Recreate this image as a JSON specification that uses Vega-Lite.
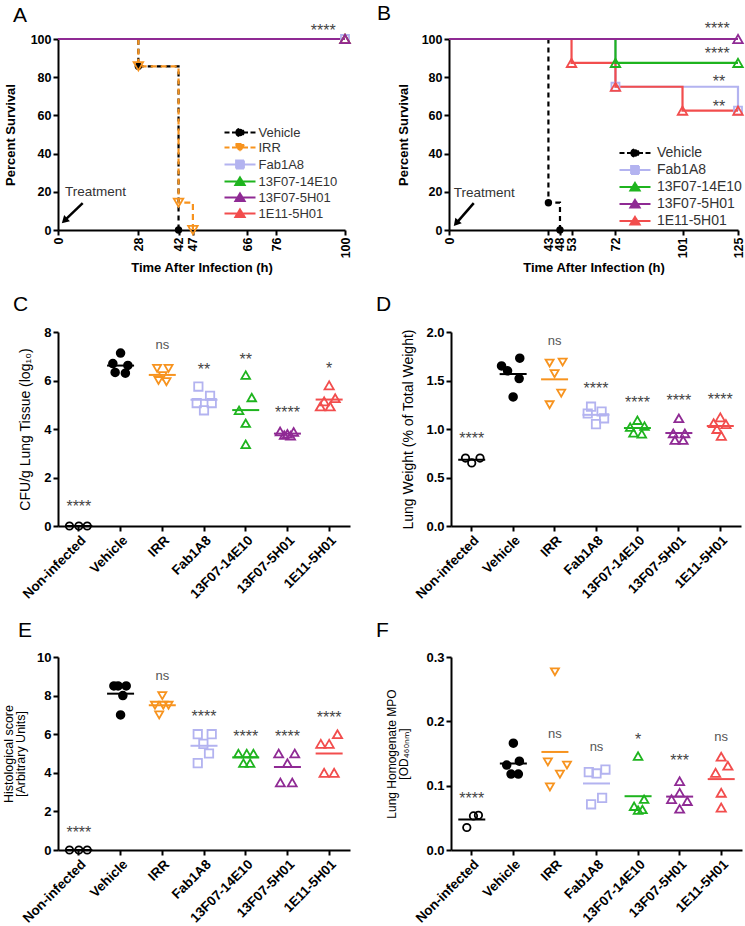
{
"$schema": "https://vega.github.io/schema/vega-lite/v6.json",
"background": "white",
"padding": {"left": 2, "top": 3, "right": 0, "bottom": 0},
"spacing": 19,
"config": {
  "font": "Liberation Sans",
  "view": {"stroke": null},
  "axis": {"grid": false, "labelOverlap": false, "domainColor": "#000", "domainWidth": 2, "tickColor": "#000", "tickWidth": 2, "tickSize": 5, "labelColor": "#000", "labelFont": "Liberation Sans", "labelFontSize": 12.5, "labelFontWeight": "bold", "labelPadding": 2, "titleColor": "#000", "titleFont": "Liberation Sans", "titleFontWeight": "normal"},
  "title": {"color": "#000", "font": "Liberation Sans", "fontSize": 21, "fontWeight": "normal", "anchor": "start", "frame": "group", "baseline": "alphabetic"},
  "legend": {"labelFont": "Liberation Sans", "labelFontSize": 13.5, "labelColor": "#333", "padding": 0, "symbolStrokeWidth": 1.8}
},
"resolve": {"scale": {"color": "independent", "shape": "independent", "size": "independent", "strokeDash": "independent", "xOffset": "independent"}, "legend": {"color": "independent", "shape": "independent"}},
"datasets": {
  "km": [
    {"p":"A","s":"Vehicle","t":0,"v":100},{"p":"A","s":"Vehicle","t":28,"v":85.7},{"p":"A","s":"Vehicle","t":42,"v":0},
    {"p":"A","s":"IRR","t":0,"v":100},{"p":"A","s":"IRR","t":28,"v":85.7},{"p":"A","s":"IRR","t":42,"v":14.3},{"p":"A","s":"IRR","t":47,"v":0},
    {"p":"A","s":"Fab1A8","t":0,"v":100},{"p":"A","s":"Fab1A8","t":100,"v":100},
    {"p":"A","s":"13F07-14E10","t":0,"v":100},{"p":"A","s":"13F07-14E10","t":100,"v":100},
    {"p":"A","s":"1E11-5H01","t":0,"v":100},{"p":"A","s":"1E11-5H01","t":100,"v":100},
    {"p":"A","s":"13F07-5H01","t":0,"v":100},{"p":"A","s":"13F07-5H01","t":100,"v":100},
    {"p":"B","s":"Vehicle","t":0,"v":100},{"p":"B","s":"Vehicle","t":43,"v":14.3},{"p":"B","s":"Vehicle","t":48,"v":0},
    {"p":"B","s":"Fab1A8","t":0,"v":100},{"p":"B","s":"Fab1A8","t":72,"v":75},{"p":"B","s":"Fab1A8","t":125,"v":62.5},
    {"p":"B","s":"1E11-5H01","t":0,"v":100},{"p":"B","s":"1E11-5H01","t":53,"v":87.5},{"p":"B","s":"1E11-5H01","t":72,"v":75},{"p":"B","s":"1E11-5H01","t":101,"v":62.5},{"p":"B","s":"1E11-5H01","t":125,"v":62.5},
    {"p":"B","s":"13F07-14E10","t":0,"v":100},{"p":"B","s":"13F07-14E10","t":72,"v":87.5},{"p":"B","s":"13F07-14E10","t":125,"v":87.5},
    {"p":"B","s":"13F07-5H01","t":0,"v":100},{"p":"B","s":"13F07-5H01","t":125,"v":100}
  ],
  "kmsig": [
    {"p":"A","t":92.4,"v":106.3,"lab":"****"},
    {"p":"B","t":116,"v":107.3,"lab":"****"},
    {"p":"B","t":116,"v":94.2,"lab":"****"},
    {"p":"B","t":116.8,"v":79.6,"lab":"**"},
    {"p":"B","t":116.8,"v":66.5,"lab":"**"}
  ],
  "arrows": [
    {"p":"A","x":8.6,"y":14.1,"hx":2.24,"hy":4.9,"tx":2.4,"ty":19.9,"lab":"Treatment"},
    {"p":"B","x":10.7,"y":14.1,"hx":3.1,"hy":3.5,"tx":2.1,"ty":19.4,"lab":"Treatment"}
  ],
  "dots": [
    {"p":"C","g":"Non-infected","v":0,"j":-0.45},{"p":"C","g":"Non-infected","v":0,"j":0},{"p":"C","g":"Non-infected","v":0,"j":0.4},
    {"p":"C","g":"Vehicle","v":7.13,"j":0},{"p":"C","g":"Vehicle","v":6.7,"j":-0.37},{"p":"C","g":"Vehicle","v":6.62,"j":0.35},{"p":"C","g":"Vehicle","v":6.33,"j":-0.26},{"p":"C","g":"Vehicle","v":6.3,"j":0.23},
    {"p":"C","g":"IRR","v":6.5,"j":-0.25},{"p":"C","g":"IRR","v":6.5,"j":0.3},{"p":"C","g":"IRR","v":6.2,"j":0.02},{"p":"C","g":"IRR","v":6.0,"j":-0.18},{"p":"C","g":"IRR","v":5.95,"j":0.2},
    {"p":"C","g":"Fab1A8","v":5.75,"j":-0.27},{"p":"C","g":"Fab1A8","v":5.37,"j":0.29},{"p":"C","g":"Fab1A8","v":5.07,"j":-0.35},{"p":"C","g":"Fab1A8","v":5.07,"j":0.37},{"p":"C","g":"Fab1A8","v":4.77,"j":0},
    {"p":"C","g":"13F07-14E10","v":6.22,"j":0},{"p":"C","g":"13F07-14E10","v":5.3,"j":0.29},{"p":"C","g":"13F07-14E10","v":4.77,"j":-0.32},{"p":"C","g":"13F07-14E10","v":4.24,"j":0},{"p":"C","g":"13F07-14E10","v":3.37,"j":0},
    {"p":"C","g":"13F07-5H01","v":3.9,"j":-0.35},{"p":"C","g":"13F07-5H01","v":3.88,"j":0.3},{"p":"C","g":"13F07-5H01","v":3.8,"j":0},{"p":"C","g":"13F07-5H01","v":3.75,"j":-0.15},{"p":"C","g":"13F07-5H01","v":3.72,"j":0.15},
    {"p":"C","g":"1E11-5H01","v":5.8,"j":0},{"p":"C","g":"1E11-5H01","v":5.27,"j":0.29},{"p":"C","g":"1E11-5H01","v":5.14,"j":-0.24},{"p":"C","g":"1E11-5H01","v":4.93,"j":-0.42},{"p":"C","g":"1E11-5H01","v":4.93,"j":0.05},
    {"p":"D","g":"Non-infected","v":0.7,"j":-0.3},{"p":"D","g":"Non-infected","v":0.65,"j":0},{"p":"D","g":"Non-infected","v":0.7,"j":0.4},
    {"p":"D","g":"Vehicle","v":1.65,"j":-0.56},{"p":"D","g":"Vehicle","v":1.73,"j":0.32},{"p":"D","g":"Vehicle","v":1.6,"j":-0.27},{"p":"D","g":"Vehicle","v":1.52,"j":0.29},{"p":"D","g":"Vehicle","v":1.33,"j":0},
    {"p":"D","g":"IRR","v":1.68,"j":-0.24},{"p":"D","g":"IRR","v":1.69,"j":0.39},{"p":"D","g":"IRR","v":1.57,"j":0},{"p":"D","g":"IRR","v":1.37,"j":0.32},{"p":"D","g":"IRR","v":1.25,"j":-0.24},
    {"p":"D","g":"Fab1A8","v":1.23,"j":-0.24},{"p":"D","g":"Fab1A8","v":1.18,"j":0.27},{"p":"D","g":"Fab1A8","v":1.16,"j":-0.4},{"p":"D","g":"Fab1A8","v":1.11,"j":0.39},{"p":"D","g":"Fab1A8","v":1.05,"j":0},
    {"p":"D","g":"13F07-14E10","v":1.09,"j":0},{"p":"D","g":"13F07-14E10","v":1.02,"j":-0.35},{"p":"D","g":"13F07-14E10","v":1.03,"j":0.34},{"p":"D","g":"13F07-14E10","v":0.96,"j":-0.19},{"p":"D","g":"13F07-14E10","v":0.95,"j":0.21},
    {"p":"D","g":"13F07-5H01","v":1.11,"j":0},{"p":"D","g":"13F07-5H01","v":0.955,"j":-0.27},{"p":"D","g":"13F07-5H01","v":0.955,"j":0.29},{"p":"D","g":"13F07-5H01","v":0.886,"j":-0.19},{"p":"D","g":"13F07-5H01","v":0.886,"j":0.21},
    {"p":"D","g":"1E11-5H01","v":1.12,"j":0},{"p":"D","g":"1E11-5H01","v":1.06,"j":-0.32},{"p":"D","g":"1E11-5H01","v":1.05,"j":0.27},{"p":"D","g":"1E11-5H01","v":1.0,"j":-0.16},{"p":"D","g":"1E11-5H01","v":0.93,"j":0.05},
    {"p":"E","g":"Non-infected","v":0,"j":-0.45},{"p":"E","g":"Non-infected","v":0,"j":0},{"p":"E","g":"Non-infected","v":0,"j":0.4},
    {"p":"E","g":"Vehicle","v":8.5,"j":-0.32},{"p":"E","g":"Vehicle","v":8.5,"j":-0.12},{"p":"E","g":"Vehicle","v":8.5,"j":0.27},{"p":"E","g":"Vehicle","v":8.0,"j":0.11},{"p":"E","g":"Vehicle","v":7.0,"j":0},
    {"p":"E","g":"IRR","v":8.0,"j":0},{"p":"E","g":"IRR","v":7.5,"j":-0.35},{"p":"E","g":"IRR","v":7.5,"j":0.3},{"p":"E","g":"IRR","v":7.5,"j":0.05},{"p":"E","g":"IRR","v":7.0,"j":-0.15},
    {"p":"E","g":"Fab1A8","v":6.0,"j":-0.3},{"p":"E","g":"Fab1A8","v":6.0,"j":0.37},{"p":"E","g":"Fab1A8","v":5.5,"j":-0.03},{"p":"E","g":"Fab1A8","v":5.0,"j":0.24},{"p":"E","g":"Fab1A8","v":4.5,"j":-0.3},
    {"p":"E","g":"13F07-14E10","v":5.0,"j":-0.35},{"p":"E","g":"13F07-14E10","v":5.0,"j":0.05},{"p":"E","g":"13F07-14E10","v":5.0,"j":0.37},{"p":"E","g":"13F07-14E10","v":4.5,"j":-0.11},{"p":"E","g":"13F07-14E10","v":4.5,"j":0.21},
    {"p":"E","g":"13F07-5H01","v":5.0,"j":-0.42},{"p":"E","g":"13F07-5H01","v":5.0,"j":0.35},{"p":"E","g":"13F07-5H01","v":4.5,"j":0},{"p":"E","g":"13F07-5H01","v":3.5,"j":-0.34},{"p":"E","g":"13F07-5H01","v":3.5,"j":0.23},
    {"p":"E","g":"1E11-5H01","v":6.0,"j":0.4},{"p":"E","g":"1E11-5H01","v":5.5,"j":-0.4},{"p":"E","g":"1E11-5H01","v":5.5,"j":0},{"p":"E","g":"1E11-5H01","v":4.0,"j":-0.24},{"p":"E","g":"1E11-5H01","v":4.0,"j":0.24},
    {"p":"F","g":"Non-infected","v":0.035,"j":-0.24},{"p":"F","g":"Non-infected","v":0.053,"j":0.08},{"p":"F","g":"Non-infected","v":0.054,"j":0.32},
    {"p":"F","g":"Vehicle","v":0.166,"j":0},{"p":"F","g":"Vehicle","v":0.138,"j":0.29},{"p":"F","g":"Vehicle","v":0.132,"j":-0.32},{"p":"F","g":"Vehicle","v":0.118,"j":-0.11},{"p":"F","g":"Vehicle","v":0.118,"j":0.24},
    {"p":"F","g":"IRR","v":0.277,"j":0},{"p":"F","g":"IRR","v":0.137,"j":-0.34},{"p":"F","g":"IRR","v":0.132,"j":0.58},{"p":"F","g":"IRR","v":0.118,"j":0.24},{"p":"F","g":"IRR","v":0.098,"j":-0.24},
    {"p":"F","g":"Fab1A8","v":0.121,"j":-0.37},{"p":"F","g":"Fab1A8","v":0.119,"j":0},{"p":"F","g":"Fab1A8","v":0.125,"j":0.43},{"p":"F","g":"Fab1A8","v":0.081,"j":0.27},{"p":"F","g":"Fab1A8","v":0.071,"j":-0.26},
    {"p":"F","g":"13F07-14E10","v":0.146,"j":0},{"p":"F","g":"13F07-14E10","v":0.079,"j":0.29},{"p":"F","g":"13F07-14E10","v":0.068,"j":-0.19},{"p":"F","g":"13F07-14E10","v":0.063,"j":0.21},{"p":"F","g":"13F07-14E10","v":0.062,"j":0},
    {"p":"F","g":"13F07-5H01","v":0.107,"j":0},{"p":"F","g":"13F07-5H01","v":0.079,"j":-0.39},{"p":"F","g":"13F07-5H01","v":0.089,"j":0},{"p":"F","g":"13F07-5H01","v":0.076,"j":0.37},{"p":"F","g":"13F07-5H01","v":0.064,"j":0},
    {"p":"F","g":"1E11-5H01","v":0.145,"j":0},{"p":"F","g":"1E11-5H01","v":0.131,"j":0.32},{"p":"F","g":"1E11-5H01","v":0.12,"j":-0.27},{"p":"F","g":"1E11-5H01","v":0.089,"j":0},{"p":"F","g":"1E11-5H01","v":0.066,"j":0}
  ],
  "sig": [
    {"p":"C","g":"Non-infected","v":0.96,"lab":"****"},{"p":"C","g":"IRR","v":7.44,"lab":"ns"},{"p":"C","g":"Fab1A8","v":6.61,"lab":"**"},{"p":"C","g":"13F07-14E10","v":7.0,"lab":"**"},{"p":"C","g":"13F07-5H01","v":4.82,"lab":"****"},{"p":"C","g":"1E11-5H01","v":6.65,"lab":"*"},
    {"p":"D","g":"Non-infected","v":0.94,"lab":"****"},{"p":"D","g":"IRR","v":1.9,"lab":"ns"},{"p":"D","g":"Fab1A8","v":1.45,"lab":"****"},{"p":"D","g":"13F07-14E10","v":1.31,"lab":"****"},{"p":"D","g":"13F07-5H01","v":1.33,"lab":"****"},{"p":"D","g":"1E11-5H01","v":1.34,"lab":"****"},
    {"p":"E","g":"Non-infected","v":1.1,"lab":"****"},{"p":"E","g":"IRR","v":8.97,"lab":"ns"},{"p":"E","g":"Fab1A8","v":7.1,"lab":"****"},{"p":"E","g":"13F07-14E10","v":6.07,"lab":"****"},{"p":"E","g":"13F07-5H01","v":6.07,"lab":"****"},{"p":"E","g":"1E11-5H01","v":7.05,"lab":"****"},
    {"p":"F","g":"Non-infected","v":0.085,"lab":"****"},{"p":"F","g":"IRR","v":0.18,"lab":"ns"},{"p":"F","g":"Fab1A8","v":0.159,"lab":"ns"},{"p":"F","g":"13F07-14E10","v":0.177,"lab":"*"},{"p":"F","g":"13F07-5H01","v":0.145,"lab":"***"},{"p":"F","g":"1E11-5H01","v":0.175,"lab":"ns"}
  ]
},
"vconcat": [
 {"hconcat": [
  {"width": 287, "height": 191,
   "title": {"text": "A", "dx": -45, "offset": -3},
   "layer": [
    {"data": {"name": "km"}, "transform": [{"filter": "datum.p === 'A'"}],
     "mark": {"type": "line", "interpolate": "step-after", "strokeWidth": 2.2},
     "encoding": {
      "x": {"field": "t", "type": "quantitative", "scale": {"domain": [0, 100], "nice": false, "zero": false}, "axis": {"values": [0, 28, 42, 47, 66, 76, 100], "tickCount": 20, "format": "d", "labelAngle": -90, "title": "Time After Infection (h)", "titleFontWeight": "bold", "titleFontSize": 13}},
      "y": {"field": "v", "type": "quantitative", "scale": {"domain": [0, 100], "nice": false}, "axis": {"values": [0, 20, 40, 60, 80, 100], "tickCount": 20, "format": "d", "title": "Percent Survival", "titleFontWeight": "bold", "titleFontSize": 13, "titlePadding": 13}},
      "color": {"field": "s", "type": "nominal", "scale": {"domain": ["Vehicle", "IRR", "Fab1A8", "13F07-14E10", "13F07-5H01", "1E11-5H01"], "range": ["#000000", "#F7931E", "#B3B3F0", "#1EB41E", "#8F2A94", "#F24D4D"]}},
      "strokeDash": {"field": "s", "type": "nominal", "scale": {"domain": ["Vehicle", "IRR", "Fab1A8", "13F07-14E10", "13F07-5H01", "1E11-5H01"], "range": [[5, 4], [6, 4], [1, 0], [1, 0], [1, 0], [1, 0]]}, "legend": null}
     }},
    {"data": {"name": "km"}, "transform": [{"filter": "datum.p === 'A' && datum.t > 0 && datum.s === 'Vehicle'"}],
     "mark": {"type": "point", "shape": "circle", "filled": true, "size": 55, "opacity": 1},
     "encoding": {"x": {"field": "t", "type": "quantitative"}, "y": {"field": "v", "type": "quantitative"}, "color": {"field": "s", "type": "nominal"}}},
    {"data": {"name": "km"}, "transform": [{"filter": "datum.p === 'A' && datum.t > 0 && datum.s === 'IRR'"}],
     "mark": {"type": "point", "shape": "triangle-down", "filled": false, "size": 90, "strokeWidth": 1.8, "opacity": 1},
     "encoding": {"x": {"field": "t", "type": "quantitative"}, "y": {"field": "v", "type": "quantitative"}, "color": {"field": "s", "type": "nominal"}}},
    {"data": {"name": "km"}, "transform": [{"filter": "datum.p === 'A' && datum.t > 0 && datum.s === 'Fab1A8'"}],
     "mark": {"type": "point", "shape": "square", "filled": false, "size": 64, "strokeWidth": 1.8, "opacity": 1},
     "encoding": {"x": {"field": "t", "type": "quantitative"}, "y": {"field": "v", "type": "quantitative"}, "color": {"field": "s", "type": "nominal"}}},
    {"data": {"name": "km"}, "transform": [{"filter": "datum.p === 'A' && datum.t > 0 && (datum.s === '13F07-14E10' || datum.s === '1E11-5H01' || datum.s === '13F07-5H01')"}],
     "mark": {"type": "point", "shape": "triangle-up", "filled": false, "size": 90, "strokeWidth": 1.8, "opacity": 1},
     "encoding": {"x": {"field": "t", "type": "quantitative"}, "y": {"field": "v", "type": "quantitative"}, "color": {"field": "s", "type": "nominal"}}},
    {"data": {"name": "km"}, "transform": [{"filter": "datum.p === 'A' && datum.t < 0"}],
     "mark": {"type": "point", "filled": false, "strokeWidth": 1.8},
     "encoding": {"x": {"field": "t", "type": "quantitative"}, "y": {"field": "v", "type": "quantitative"},
      "color": {"field": "s", "type": "nominal", "legend": {"orient": "none", "legendX": 175.5, "legendY": 87, "title": null, "symbolSize": 100, "labelOffset": 12, "rowPadding": 0, "symbolStrokeWidth": 1.8, "symbolOpacity": 1, "labelFontSize": 13}},
      "shape": {"field": "s", "type": "nominal", "scale": {"domain": ["Vehicle", "IRR", "Fab1A8", "13F07-14E10", "13F07-5H01", "1E11-5H01"], "range": [
        "M-3.1,0H-2.1M-1.6,0H-0.8M-0.75,0A0.75,0.75,0,1,0,0.75,0A0.75,0.75,0,1,0,-0.75,0M-0.4,0A0.4,0.4,0,1,0,0.4,0A0.4,0.4,0,1,0,-0.4,0M-0.1,0A0.1,0.1,0,1,0,0.1,0A0.1,0.1,0,1,0,-0.1,0M0.8,0H1.6M2.1,0H3.1",
        "M-3.1,0H-2.1M-1.6,0H-0.55M-0.9,-0.7L0.9,-0.7L0,0.85ZM0.55,0H1.6M2.1,0H3.1",
        "M-3.1,0H-0.8M-0.8,-0.8H0.8V0.8H-0.8ZM0.8,0H3.1",
        "M-3.1,0H-0.6M0,-0.85L0.95,0.7L-0.95,0.7ZM0.6,0H3.1",
        "M-3.1,0H-0.6M0,-0.85L0.95,0.7L-0.95,0.7ZM0.6,0H3.1",
        "M-3.1,0H-0.6M0,-0.85L0.95,0.7L-0.95,0.7ZM0.6,0H3.1"]},
       "legend": {"orient": "none", "legendX": 175.5, "legendY": 87, "title": null, "symbolSize": 100, "labelOffset": 12, "rowPadding": 0, "symbolStrokeWidth": 1.8, "symbolOpacity": 1, "labelFontSize": 13}}
     }},
    {"data": {"name": "kmsig"}, "transform": [{"filter": "datum.p === 'A'"}],
     "mark": {"type": "text", "fontSize": 16, "baseline": "alphabetic", "dy": 9, "color": "#444"},
     "encoding": {"x": {"field": "t", "type": "quantitative"}, "y": {"field": "v", "type": "quantitative"}, "text": {"field": "lab"}}},
    {"data": {"name": "arrows"}, "transform": [{"filter": "datum.p === 'A'"}],
     "mark": {"type": "rule", "strokeWidth": 2.5, "color": "#000"},
     "encoding": {"x": {"field": "x", "type": "quantitative"}, "y": {"field": "y", "type": "quantitative"}, "x2": {"field": "hx"}, "y2": {"field": "hy"}}},
    {"data": {"name": "arrows"}, "transform": [{"filter": "datum.p === 'A'"}],
     "mark": {"type": "point", "shape": "triangle-up", "filled": true, "color": "#000", "size": 70, "angle": 226, "opacity": 1},
     "encoding": {"x": {"field": "hx", "type": "quantitative"}, "y": {"field": "hy", "type": "quantitative"}}},
    {"data": {"name": "arrows"}, "transform": [{"filter": "datum.p === 'A'"}],
     "mark": {"type": "text", "align": "left", "baseline": "middle", "fontSize": 13.5, "color": "#333"},
     "encoding": {"x": {"field": "tx", "type": "quantitative"}, "y": {"field": "ty", "type": "quantitative"}, "text": {"field": "lab"}}}
   ]},
  {"width": 289, "height": 191,
   "title": {"text": "B", "dx": -72, "offset": -3},
   "layer": [
    {"data": {"name": "km"}, "transform": [{"filter": "datum.p === 'B'"}],
     "mark": {"type": "line", "interpolate": "step-after", "strokeWidth": 2.2},
     "encoding": {
      "x": {"field": "t", "type": "quantitative", "scale": {"domain": [0, 125], "nice": false, "zero": false}, "axis": {"values": [0, 43, 48, 53, 72, 101, 125], "tickCount": 20, "format": "d", "labelAngle": -90, "title": "Time After Infection (h)", "titleFontWeight": "bold", "titleFontSize": 13}},
      "y": {"field": "v", "type": "quantitative", "scale": {"domain": [0, 100], "nice": false}, "axis": {"values": [0, 20, 40, 60, 80, 100], "tickCount": 20, "format": "d", "title": "Percent Survival", "titleFontWeight": "bold", "titleFontSize": 13, "titlePadding": 11}},
      "color": {"field": "s", "type": "nominal", "scale": {"domain": ["Vehicle", "Fab1A8", "13F07-14E10", "13F07-5H01", "1E11-5H01"], "range": ["#000000", "#B3B3F0", "#1EB41E", "#8F2A94", "#F24D4D"]}},
      "strokeDash": {"field": "s", "type": "nominal", "scale": {"domain": ["Vehicle", "Fab1A8", "13F07-14E10", "13F07-5H01", "1E11-5H01"], "range": [[5, 4], [1, 0], [1, 0], [1, 0], [1, 0]]}, "legend": null}
     }},
    {"data": {"name": "km"}, "transform": [{"filter": "datum.p === 'B' && datum.t > 0 && datum.s === 'Vehicle'"}],
     "mark": {"type": "point", "shape": "circle", "filled": true, "size": 55, "opacity": 1},
     "encoding": {"x": {"field": "t", "type": "quantitative"}, "y": {"field": "v", "type": "quantitative"}, "color": {"field": "s", "type": "nominal"}}},
    {"data": {"name": "km"}, "transform": [{"filter": "datum.p === 'B' && datum.t > 0 && datum.s === 'Fab1A8'"}],
     "mark": {"type": "point", "shape": "square", "filled": false, "size": 64, "strokeWidth": 1.8, "opacity": 1},
     "encoding": {"x": {"field": "t", "type": "quantitative"}, "y": {"field": "v", "type": "quantitative"}, "color": {"field": "s", "type": "nominal"}}},
    {"data": {"name": "km"}, "transform": [{"filter": "datum.p === 'B' && datum.t > 0 && (datum.s === '13F07-14E10' || datum.s === '1E11-5H01' || datum.s === '13F07-5H01')"}],
     "mark": {"type": "point", "shape": "triangle-up", "filled": false, "size": 90, "strokeWidth": 1.8, "opacity": 1},
     "encoding": {"x": {"field": "t", "type": "quantitative"}, "y": {"field": "v", "type": "quantitative"}, "color": {"field": "s", "type": "nominal"}}},
    {"data": {"name": "km"}, "transform": [{"filter": "datum.p === 'B' && datum.t < 0"}],
     "mark": {"type": "point", "filled": false, "strokeWidth": 1.8},
     "encoding": {"x": {"field": "t", "type": "quantitative"}, "y": {"field": "v", "type": "quantitative"},
      "color": {"field": "s", "type": "nominal", "legend": {"orient": "none", "legendX": 179, "legendY": 107, "title": null, "symbolSize": 100, "labelOffset": 15, "rowPadding": 1, "symbolStrokeWidth": 1.8, "symbolOpacity": 1, "labelFontSize": 14}},
      "shape": {"field": "s", "type": "nominal", "scale": {"domain": ["Vehicle", "Fab1A8", "13F07-14E10", "13F07-5H01", "1E11-5H01"], "range": [
        "M-3.1,0H-2.1M-1.6,0H-0.8M-0.75,0A0.75,0.75,0,1,0,0.75,0A0.75,0.75,0,1,0,-0.75,0M-0.4,0A0.4,0.4,0,1,0,0.4,0A0.4,0.4,0,1,0,-0.4,0M-0.1,0A0.1,0.1,0,1,0,0.1,0A0.1,0.1,0,1,0,-0.1,0M0.8,0H1.6M2.1,0H3.1",
        "M-3.1,0H-0.8M-0.8,-0.8H0.8V0.8H-0.8ZM0.8,0H3.1",
        "M-3.1,0H-0.6M0,-0.85L0.95,0.7L-0.95,0.7ZM0.6,0H3.1",
        "M-3.1,0H-0.6M0,-0.85L0.95,0.7L-0.95,0.7ZM0.6,0H3.1",
        "M-3.1,0H-0.6M0,-0.85L0.95,0.7L-0.95,0.7ZM0.6,0H3.1"]},
       "legend": {"orient": "none", "legendX": 179, "legendY": 107, "title": null, "symbolSize": 100, "labelOffset": 15, "rowPadding": 1, "symbolStrokeWidth": 1.8, "symbolOpacity": 1, "labelFontSize": 14}}
     }},
    {"data": {"name": "kmsig"}, "transform": [{"filter": "datum.p === 'B'"}],
     "mark": {"type": "text", "fontSize": 16, "baseline": "alphabetic", "dy": 9, "color": "#444"},
     "encoding": {"x": {"field": "t", "type": "quantitative"}, "y": {"field": "v", "type": "quantitative"}, "text": {"field": "lab"}}},
    {"data": {"name": "arrows"}, "transform": [{"filter": "datum.p === 'B'"}],
     "mark": {"type": "rule", "strokeWidth": 2.5, "color": "#000"},
     "encoding": {"x": {"field": "x", "type": "quantitative"}, "y": {"field": "y", "type": "quantitative"}, "x2": {"field": "hx"}, "y2": {"field": "hy"}}},
    {"data": {"name": "arrows"}, "transform": [{"filter": "datum.p === 'B'"}],
     "mark": {"type": "point", "shape": "triangle-up", "filled": true, "color": "#000", "size": 70, "angle": 221, "opacity": 1},
     "encoding": {"x": {"field": "hx", "type": "quantitative"}, "y": {"field": "hy", "type": "quantitative"}}},
    {"data": {"name": "arrows"}, "transform": [{"filter": "datum.p === 'B'"}],
     "mark": {"type": "text", "align": "left", "baseline": "middle", "fontSize": 13.5, "color": "#333"},
     "encoding": {"x": {"field": "tx", "type": "quantitative"}, "y": {"field": "ty", "type": "quantitative"}, "text": {"field": "lab"}}}
   ]}
 ], "bounds": "flush", "spacing": 104,
 "resolve": {"scale": {"color": "independent", "shape": "independent", "size": "independent", "strokeDash": "independent"}, "legend": {"color": "independent", "shape": "independent"}}},

 {"hconcat": [
  {"width": 292, "height": 194,
   "title": {"text": "C", "dx": -45, "offset": 11},
   "layer": [
    {"data": {"name": "dots"}, "transform": [{"filter": "datum.p === 'C'"}],
     "mark": {"type": "point", "filled": false, "strokeWidth": 1.8, "opacity": 1},
     "encoding": {
      "x": {"field": "g", "type": "nominal", "sort": null, "scale": {"type": "band", "domain": ["Non-infected", "Vehicle", "IRR", "Fab1A8", "13F07-14E10", "13F07-5H01", "1E11-5H01"], "paddingInner": 0, "paddingOuter": 0}, "axis": {"labelAngle": -45, "title": null, "labelFontSize": 13.5}},
      "xOffset": {"field": "j", "type": "quantitative", "scale": {"domain": [-1, 1]}},
      "y": {"field": "v", "type": "quantitative", "scale": {"domain": [0, 8], "nice": false}, "axis": {"values": [0, 2, 4, 6, 8], "tickCount": 20, "format": "d", "title": "CFU/g Lung Tissue (log₁₀)", "titleFontSize": 14, "titlePadding": 11, "labelFontSize": 13}},
      "color": {"field": "g", "type": "nominal", "scale": {"domain": ["Non-infected", "Vehicle", "IRR", "Fab1A8", "13F07-14E10", "13F07-5H01", "1E11-5H01"], "range": ["#000000", "#000000", "#F7931E", "#B3B3F0", "#1EB41E", "#8F2A94", "#F24D4D"]}, "legend": null},
      "shape": {"field": "g", "type": "nominal", "scale": {"domain": ["Non-infected", "Vehicle", "IRR", "Fab1A8", "13F07-14E10", "13F07-5H01", "1E11-5H01"], "range": ["circle", "circle", "triangle-down", "square", "triangle-up", "triangle-up", "triangle-up"]}, "legend": null},
      "size": {"field": "g", "type": "nominal", "scale": {"domain": ["Non-infected", "Vehicle", "IRR", "Fab1A8", "13F07-14E10", "13F07-5H01", "1E11-5H01"], "range": [55, 85, 110, 80, 110, 110, 110]}, "legend": null},
      "fill": {"condition": {"test": "datum.g === 'Vehicle'", "value": "#000"}, "value": "transparent"}
     }},
    {"data": {"name": "dots"}, "transform": [{"filter": "datum.p === 'C'"}],
     "mark": {"type": "tick", "size": 27, "thickness": 2, "opacity": 1},
     "encoding": {"x": {"field": "g", "type": "nominal", "sort": null}, "y": {"aggregate": "mean", "field": "v", "type": "quantitative"}, "color": {"field": "g", "type": "nominal", "legend": null}}},
    {"data": {"name": "sig"}, "transform": [{"filter": "datum.p === 'C' && datum.lab !== 'ns'"}],
     "mark": {"type": "text", "fontSize": 16, "baseline": "alphabetic", "dy": 9, "color": "#444"},
     "encoding": {"x": {"field": "g", "type": "nominal", "sort": null}, "y": {"field": "v", "type": "quantitative"}, "text": {"field": "lab"}}},
    {"data": {"name": "sig"}, "transform": [{"filter": "datum.p === 'C' && datum.lab === 'ns'"}],
     "mark": {"type": "text", "fontSize": 13, "baseline": "alphabetic", "dy": 3.5, "color": "#555"},
     "encoding": {"x": {"field": "g", "type": "nominal", "sort": null}, "y": {"field": "v", "type": "quantitative"}, "text": {"field": "lab"}}}
   ]},
  {"width": 290, "height": 194,
   "title": {"text": "D", "dx": -75, "offset": 11},
   "layer": [
    {"data": {"name": "dots"}, "transform": [{"filter": "datum.p === 'D'"}],
     "mark": {"type": "point", "filled": false, "strokeWidth": 1.8, "opacity": 1},
     "encoding": {
      "x": {"field": "g", "type": "nominal", "sort": null, "scale": {"type": "band", "domain": ["Non-infected", "Vehicle", "IRR", "Fab1A8", "13F07-14E10", "13F07-5H01", "1E11-5H01"], "paddingInner": 0, "paddingOuter": 0}, "axis": {"labelAngle": -45, "title": null, "labelFontSize": 13.5}},
      "xOffset": {"field": "j", "type": "quantitative", "scale": {"domain": [-1, 1]}},
      "y": {"field": "v", "type": "quantitative", "scale": {"domain": [0, 2], "nice": false}, "axis": {"values": [0, 0.5, 1, 1.5, 2], "tickCount": 20, "format": ".1f", "title": "Lung Weight (% of Total Weight)", "titleFontSize": 14, "titlePadding": 10, "labelFontSize": 13}},
      "color": {"field": "g", "type": "nominal", "scale": {"domain": ["Non-infected", "Vehicle", "IRR", "Fab1A8", "13F07-14E10", "13F07-5H01", "1E11-5H01"], "range": ["#000000", "#000000", "#F7931E", "#B3B3F0", "#1EB41E", "#8F2A94", "#F24D4D"]}, "legend": null},
      "shape": {"field": "g", "type": "nominal", "scale": {"domain": ["Non-infected", "Vehicle", "IRR", "Fab1A8", "13F07-14E10", "13F07-5H01", "1E11-5H01"], "range": ["circle", "circle", "triangle-down", "square", "triangle-up", "triangle-up", "triangle-up"]}, "legend": null},
      "size": {"field": "g", "type": "nominal", "scale": {"domain": ["Non-infected", "Vehicle", "IRR", "Fab1A8", "13F07-14E10", "13F07-5H01", "1E11-5H01"], "range": [55, 85, 110, 80, 110, 110, 110]}, "legend": null},
      "fill": {"condition": {"test": "datum.g === 'Vehicle'", "value": "#000"}, "value": "transparent"}
     }},
    {"data": {"name": "dots"}, "transform": [{"filter": "datum.p === 'D'"}],
     "mark": {"type": "tick", "size": 27, "thickness": 2, "opacity": 1},
     "encoding": {"x": {"field": "g", "type": "nominal", "sort": null}, "y": {"aggregate": "mean", "field": "v", "type": "quantitative"}, "color": {"field": "g", "type": "nominal", "legend": null}}},
    {"data": {"name": "sig"}, "transform": [{"filter": "datum.p === 'D' && datum.lab !== 'ns'"}],
     "mark": {"type": "text", "fontSize": 16, "baseline": "alphabetic", "dy": 9, "color": "#444"},
     "encoding": {"x": {"field": "g", "type": "nominal", "sort": null}, "y": {"field": "v", "type": "quantitative"}, "text": {"field": "lab"}}},
    {"data": {"name": "sig"}, "transform": [{"filter": "datum.p === 'D' && datum.lab === 'ns'"}],
     "mark": {"type": "text", "fontSize": 13, "baseline": "alphabetic", "dy": 3.5, "color": "#555"},
     "encoding": {"x": {"field": "g", "type": "nominal", "sort": null}, "y": {"field": "v", "type": "quantitative"}, "text": {"field": "lab"}}}
   ]}
 ], "bounds": "flush", "spacing": 101,
 "resolve": {"scale": {"color": "independent", "shape": "independent", "size": "independent", "xOffset": "independent"}}},

 {"hconcat": [
  {"width": 292, "height": 193,
   "title": {"text": "E", "dx": -40, "offset": 10},
   "layer": [
    {"data": {"name": "dots"}, "transform": [{"filter": "datum.p === 'E'"}],
     "mark": {"type": "point", "filled": false, "strokeWidth": 1.8, "opacity": 1},
     "encoding": {
      "x": {"field": "g", "type": "nominal", "sort": null, "scale": {"type": "band", "domain": ["Non-infected", "Vehicle", "IRR", "Fab1A8", "13F07-14E10", "13F07-5H01", "1E11-5H01"], "paddingInner": 0, "paddingOuter": 0}, "axis": {"labelAngle": -45, "title": null, "labelFontSize": 13.5}},
      "xOffset": {"field": "j", "type": "quantitative", "scale": {"domain": [-1, 1]}},
      "y": {"field": "v", "type": "quantitative", "scale": {"domain": [0, 10], "nice": false}, "axis": {"values": [0, 2, 4, 6, 8, 10], "tickCount": 20, "format": "d", "title": ["Histological score", "[Arbitrary Units]"], "titleFontSize": 12.5, "titleLineHeight": 12, "titlePadding": 9, "labelFontSize": 13}},
      "color": {"field": "g", "type": "nominal", "scale": {"domain": ["Non-infected", "Vehicle", "IRR", "Fab1A8", "13F07-14E10", "13F07-5H01", "1E11-5H01"], "range": ["#000000", "#000000", "#F7931E", "#B3B3F0", "#1EB41E", "#8F2A94", "#F24D4D"]}, "legend": null},
      "shape": {"field": "g", "type": "nominal", "scale": {"domain": ["Non-infected", "Vehicle", "IRR", "Fab1A8", "13F07-14E10", "13F07-5H01", "1E11-5H01"], "range": ["circle", "circle", "triangle-down", "square", "triangle-up", "triangle-up", "triangle-up"]}, "legend": null},
      "size": {"field": "g", "type": "nominal", "scale": {"domain": ["Non-infected", "Vehicle", "IRR", "Fab1A8", "13F07-14E10", "13F07-5H01", "1E11-5H01"], "range": [55, 85, 110, 80, 110, 110, 110]}, "legend": null},
      "fill": {"condition": {"test": "datum.g === 'Vehicle'", "value": "#000"}, "value": "transparent"}
     }},
    {"data": {"name": "dots"}, "transform": [{"filter": "datum.p === 'E'"}],
     "mark": {"type": "tick", "size": 27, "thickness": 2, "opacity": 1},
     "encoding": {"x": {"field": "g", "type": "nominal", "sort": null}, "y": {"aggregate": "mean", "field": "v", "type": "quantitative"}, "color": {"field": "g", "type": "nominal", "legend": null}}},
    {"data": {"name": "sig"}, "transform": [{"filter": "datum.p === 'E' && datum.lab !== 'ns'"}],
     "mark": {"type": "text", "fontSize": 16, "baseline": "alphabetic", "dy": 9, "color": "#444"},
     "encoding": {"x": {"field": "g", "type": "nominal", "sort": null}, "y": {"field": "v", "type": "quantitative"}, "text": {"field": "lab"}}},
    {"data": {"name": "sig"}, "transform": [{"filter": "datum.p === 'E' && datum.lab === 'ns'"}],
     "mark": {"type": "text", "fontSize": 13, "baseline": "alphabetic", "dy": 3.5, "color": "#555"},
     "encoding": {"x": {"field": "g", "type": "nominal", "sort": null}, "y": {"field": "v", "type": "quantitative"}, "text": {"field": "lab"}}}
   ]},
  {"width": 291, "height": 193,
   "title": {"text": "F", "dx": -75, "offset": 10},
   "layer": [
    {"data": {"name": "dots"}, "transform": [{"filter": "datum.p === 'F'"}],
     "mark": {"type": "point", "filled": false, "strokeWidth": 1.8, "opacity": 1},
     "encoding": {
      "x": {"field": "g", "type": "nominal", "sort": null, "scale": {"type": "band", "domain": ["Non-infected", "Vehicle", "IRR", "Fab1A8", "13F07-14E10", "13F07-5H01", "1E11-5H01"], "paddingInner": 0, "paddingOuter": 0}, "axis": {"labelAngle": -45, "title": null, "labelFontSize": 13.5}},
      "xOffset": {"field": "j", "type": "quantitative", "scale": {"domain": [-1, 1]}},
      "y": {"field": "v", "type": "quantitative", "scale": {"domain": [0, 0.3], "nice": false}, "axis": {"values": [0, 0.1, 0.2, 0.3], "tickCount": 20, "format": ".1f", "title": ["Lung Homogenate MPO", "[OD₄₆₀ₙₘ]"], "titleFontSize": 12, "titleLineHeight": 12, "titlePadding": 15, "labelFontSize": 13}},
      "color": {"field": "g", "type": "nominal", "scale": {"domain": ["Non-infected", "Vehicle", "IRR", "Fab1A8", "13F07-14E10", "13F07-5H01", "1E11-5H01"], "range": ["#000000", "#000000", "#F7931E", "#B3B3F0", "#1EB41E", "#8F2A94", "#F24D4D"]}, "legend": null},
      "shape": {"field": "g", "type": "nominal", "scale": {"domain": ["Non-infected", "Vehicle", "IRR", "Fab1A8", "13F07-14E10", "13F07-5H01", "1E11-5H01"], "range": ["circle", "circle", "triangle-down", "square", "triangle-up", "triangle-up", "triangle-up"]}, "legend": null},
      "size": {"field": "g", "type": "nominal", "scale": {"domain": ["Non-infected", "Vehicle", "IRR", "Fab1A8", "13F07-14E10", "13F07-5H01", "1E11-5H01"], "range": [55, 85, 110, 80, 110, 110, 110]}, "legend": null},
      "fill": {"condition": {"test": "datum.g === 'Vehicle'", "value": "#000"}, "value": "transparent"}
     }},
    {"data": {"name": "dots"}, "transform": [{"filter": "datum.p === 'F'"}],
     "mark": {"type": "tick", "size": 27, "thickness": 2, "opacity": 1},
     "encoding": {"x": {"field": "g", "type": "nominal", "sort": null}, "y": {"aggregate": "mean", "field": "v", "type": "quantitative"}, "color": {"field": "g", "type": "nominal", "legend": null}}},
    {"data": {"name": "sig"}, "transform": [{"filter": "datum.p === 'F' && datum.lab !== 'ns'"}],
     "mark": {"type": "text", "fontSize": 16, "baseline": "alphabetic", "dy": 9, "color": "#444"},
     "encoding": {"x": {"field": "g", "type": "nominal", "sort": null}, "y": {"field": "v", "type": "quantitative"}, "text": {"field": "lab"}}},
    {"data": {"name": "sig"}, "transform": [{"filter": "datum.p === 'F' && datum.lab === 'ns'"}],
     "mark": {"type": "text", "fontSize": 13, "baseline": "alphabetic", "dy": 3.5, "color": "#555"},
     "encoding": {"x": {"field": "g", "type": "nominal", "sort": null}, "y": {"field": "v", "type": "quantitative"}, "text": {"field": "lab"}}}
   ]}
 ], "bounds": "flush", "spacing": 101,
 "resolve": {"scale": {"color": "independent", "shape": "independent", "size": "independent", "xOffset": "independent"}}}
]
}
